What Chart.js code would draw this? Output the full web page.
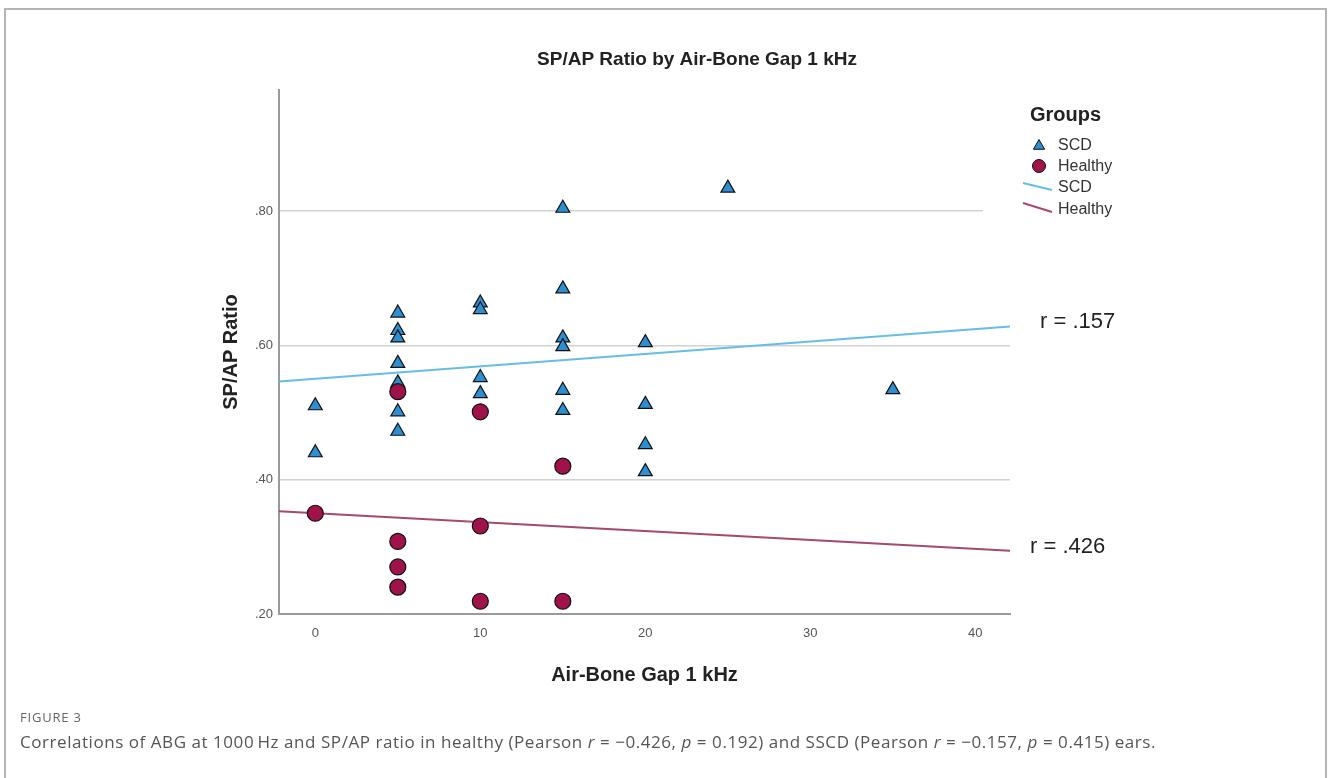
<!DOCTYPE html>
<html>
<head>
<meta charset="utf-8">
<title>SP/AP Ratio by Air-Bone Gap 1 kHz</title>
<script src="https://cdn.jsdelivr.net/npm/chart.js@4.4.0/dist/chart.umd.min.js"></script>
<style>
    body { margin: 0; background: #fff; overflow: hidden; }
    #wrap { position: relative; width: 1328px; height: 778px; }
    #frame { position: absolute; left: 4px; top: 8px; width: 1323px; height: 820px; border: 2px solid #b4b4b4; box-sizing: border-box; }
    #chart { position: absolute; left: 0; top: 0; }
    #figno { position: absolute; left: 20px; top: 708px; font: 13px "Open Sans", sans-serif; color: #666; letter-spacing: 0.8px; }
    #caption { position: absolute; left: 20px; top: 730px; font: 17px "Open Sans", sans-serif; color: #555; white-space: nowrap; letter-spacing: 0.55px; }
</style>
</head>
<body>
<div id="wrap">
    <div id="frame"></div>
    <canvas id="chart" width="1328" height="778"></canvas>
    <div id="figno">FIGURE 3</div>
    <div id="caption">Correlations of ABG at 1000&#8201;Hz and SP/AP ratio in healthy (Pearson <i>r</i> = &minus;0.426, <i>p</i> = 0.192) and SSCD (Pearson <i>r</i> = &minus;0.157, <i>p</i> = 0.415) ears.</div>
</div>
<script>
// data
const scdX = [0, 0, 5, 5, 5, 5, 5, 5, 5, 10, 10, 10, 10, 15, 15, 15, 15, 15, 15, 20, 20, 20, 20, 25, 35];
const scdY = [0.51, 0.44, 0.648, 0.622, 0.611, 0.573, 0.544, 0.501, 0.472, 0.663, 0.653, 0.552, 0.528,
    0.804, 0.684, 0.611, 0.598, 0.533, 0.503, 0.604, 0.512, 0.452, 0.412, 0.834, 0.534];
const healthyX = [0, 5, 5, 5, 5, 10, 10, 10, 15, 15];
const healthyY = [0.35, 0.531, 0.308, 0.270, 0.240, 0.501, 0.331, 0.219, 0.420, 0.219];

// fit line end points
const fitX = [-2.2, 42.1];
const scdFitY = [0.546, 0.628];
const healthyFitY = [0.353, 0.294];

const xTicks = [0, 10, 20, 30, 40];
const yTicks = [0.2, 0.4, 0.6, 0.8];
const groupNames = ['SCD', 'Healthy'];
const rLabels = ['r = .157', 'r = .426'];
const chartTitle = 'SP/AP Ratio by Air-Bone Gap 1 kHz';

const scdColor = '#2b8fd2';
const healthyColor = '#a0134a';
const scdLineColor = '#66bde8';
const healthyLineColor = '#a6486f';

function toPoints(xs, ys) {
    return xs.map((x, i) => ({x: x, y: ys[i]}));
}

function drawTriangle(ctx, x, y, r) {
    ctx.beginPath();
    ctx.moveTo(x, y - r);
    ctx.lineTo(x + r * Math.sin(Math.PI * 2 / 3), y + r / 2);
    ctx.lineTo(x - r * Math.sin(Math.PI * 2 / 3), y + r / 2);
    ctx.closePath();
}

// title, legend and r labels
const overlay = {
    id: 'overlay',
    afterDraw(chart) {
        const ctx = chart.ctx;
        const area = chart.chartArea;
        const ys = chart.scales.y;
        ctx.save();
        ctx.fillStyle = '#222';
        ctx.font = 'bold 19px "Liberation Sans", Arial, sans-serif';
        ctx.textAlign = 'center';
        ctx.textBaseline = 'middle';
        ctx.fillText(chartTitle, 697, 60);

        // legend
        const lx = area.right + 20;
        ctx.fillStyle = '#fff';
        ctx.fillRect(area.right - 27, 96, 150, 128);
        ctx.textAlign = 'left';
        ctx.fillStyle = '#222';
        ctx.font = 'bold 20px "Liberation Sans", Arial, sans-serif';
        ctx.fillText('Groups', lx, 115);

        ctx.lineWidth = 1;
        ctx.strokeStyle = '#111';
        ctx.fillStyle = scdColor;
        drawTriangle(ctx, lx + 9, 146, 6.5);
        ctx.fill(); ctx.stroke();
        ctx.fillStyle = healthyColor;
        ctx.beginPath();
        ctx.arc(lx + 9, 166, 6.5, 0, Math.PI * 2);
        ctx.fill(); ctx.stroke();

        ctx.lineWidth = 2;
        ctx.strokeStyle = scdLineColor;
        ctx.beginPath(); ctx.moveTo(lx - 7, 183); ctx.lineTo(lx + 22, 190); ctx.stroke();
        ctx.strokeStyle = healthyLineColor;
        ctx.beginPath(); ctx.moveTo(lx - 7, 203); ctx.lineTo(lx + 22, 212); ctx.stroke();

        ctx.fillStyle = '#333';
        ctx.font = '16px "Liberation Sans", Arial, sans-serif';
        ctx.fillText(groupNames[0], lx + 28, 146);
        ctx.fillText(groupNames[1], lx + 28, 167);
        ctx.fillText(groupNames[0], lx + 28, 188);
        ctx.fillText(groupNames[1], lx + 28, 210);

        // r values next to the fit lines
        ctx.fillStyle = '#222';
        ctx.font = '22px "Liberation Sans", Arial, sans-serif';
        ctx.fillText(rLabels[0], area.right + 30, ys.getPixelForValue(scdFitY[1]) - 5);
        ctx.fillText(rLabels[1], area.right + 20, ys.getPixelForValue(healthyFitY[1]) - 4);
        ctx.restore();
    }
};

const ctx = document.getElementById('chart').getContext('2d');
const data = {
    datasets: [{
        label: 'Healthy',
        data: toPoints(healthyX, healthyY),
        pointStyle: 'circle',
        pointRadius: 8,
        backgroundColor: healthyColor,
        borderColor: '#111',
        borderWidth: 1.2
    }, {
        label: 'SCD',
        data: toPoints(scdX, scdY),
        pointStyle: 'triangle',
        pointRadius: 8,
        backgroundColor: scdColor,
        borderColor: '#111',
        borderWidth: 1.2
    }, {
        label: 'SCD fit',
        data: toPoints(fitX, scdFitY),
        showLine: true,
        pointRadius: 0,
        borderColor: scdLineColor,
        borderWidth: 2
    }, {
        label: 'Healthy fit',
        data: toPoints(fitX, healthyFitY),
        showLine: true,
        pointRadius: 0,
        borderColor: healthyLineColor,
        borderWidth: 2
    }]
};

const config = {
    type: 'scatter',
    data,
    options: {
        responsive: false,
        animation: false,
        layout: {
            autoPadding: false,
            padding: {left: 219, right: 318, top: 90, bottom: 64}
        },
        plugins: {
            legend: {display: false},
            tooltip: {enabled: false}
        },
        scales: {
            x: {
                min: fitX[0],
                max: fitX[1],
                afterBuildTicks: (scale) => { scale.ticks = xTicks.map(v => ({value: v})); },
                afterFit: (scale) => { scale.height = 100; },
                grid: {display: false, drawTicks: false},
                border: {color: '#9a9a9a', width: 2},
                ticks: {
                    padding: 12,
                    color: '#555',
                    font: {family: '"Liberation Sans", Arial, sans-serif', size: 13}
                },
                title: {
                    display: true,
                    text: 'Air-Bone Gap 1 kHz',
                    color: '#222',
                    padding: {top: 0, bottom: 27},
                    font: {family: '"Liberation Sans", Arial, sans-serif', size: 20, weight: 'bold'}
                }
            },
            y: {
                min: 0.2,
                max: 0.98,
                afterBuildTicks: (scale) => { scale.ticks = yTicks.map(v => ({value: v})); },
                afterFit: (scale) => { scale.width = 60; },
                grid: {color: '#d2d2d2', lineWidth: 1.5, drawTicks: false},
                border: {color: '#9a9a9a', width: 2},
                ticks: {
                    padding: 6,
                    color: '#555',
                    font: {family: '"Liberation Sans", Arial, sans-serif', size: 13},
                    callback: (v) => v.toFixed(2).replace(/^0/, '')
                },
                title: {
                    display: true,
                    text: 'SP/AP Ratio',
                    color: '#222',
                    padding: {top: 0, bottom: 0},
                    font: {family: '"Liberation Sans", Arial, sans-serif', size: 20, weight: 'bold'}
                }
            }
        }
    },
    plugins: [overlay]
};

var myChart = new Chart(ctx, config);
</script>
</body>
</html>
